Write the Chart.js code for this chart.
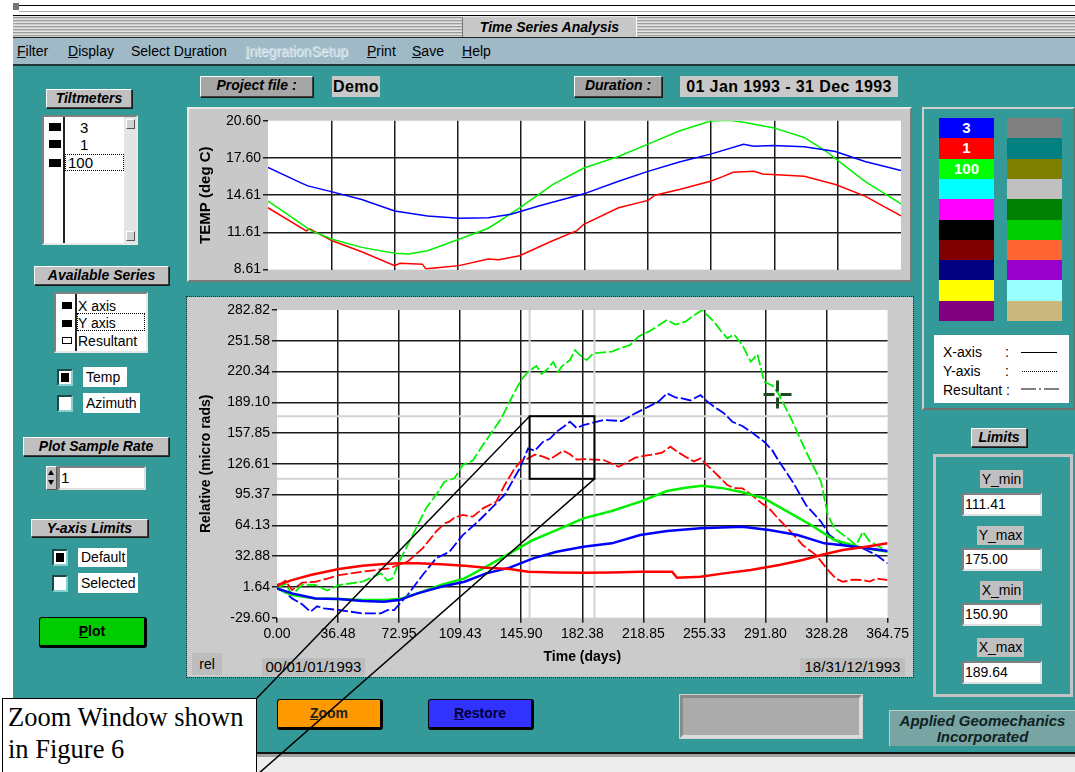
<!DOCTYPE html>
<html>
<head>
<meta charset="utf-8">
<title>Time Series Analysis</title>
<script src="https://cdn.jsdelivr.net/npm/chart.js@4.4.1/dist/chart.umd.min.js"></script>
<style>
  * { box-sizing: border-box; }
  body { margin: 0; width: 1075px; height: 772px; overflow: hidden; background: #fff;
         font-family: "Liberation Sans", Arial, sans-serif; position: relative; color: #000; }
  .a { position: absolute; }
  .tag { position: absolute; background: #c0c0c0; border: 1px solid; border-color: #fff #404040 #404040 #fff;
         box-shadow: 1px 1px 0 #1a1a1a; font: italic bold 14px "Liberation Sans", Arial, sans-serif;
         text-align: center; line-height: 17px; }
  .tag.dk { background: #a6a6a6; }
  .fld { position: absolute; background: #c8c8c8; font: bold 16px "Liberation Sans", Arial, sans-serif;
         letter-spacing: 0.4px; text-align: center; line-height: 21px; }
  .menu { position: absolute; top: 43px; font-size: 14px; line-height: 16px; }
  .list { position: absolute; background: #fff; border: 2px solid; border-color: #808080 #e8e8e8 #e8e8e8 #808080; }
  .sq { position: absolute; background: #000; }
  .item { position: absolute; font-size: 14px; line-height: 16px; }
  .chk { position: absolute; width: 16px; height: 17px; background: #fff; border: 2px solid;
         border-color: #1c4848 #86d0d0 #86d0d0 #1c4848; }
  .chk.on::after { content: ""; position: absolute; left: 2px; top: 2px; width: 8px; height: 9px; background: #000; }
  .wl { position: absolute; background: #fff; font-size: 14px; line-height: 20px; padding-left: 3px; }
  .btn { position: absolute; border: 1px solid #000; border-right-width: 3px; border-bottom-width: 3px;
         border-radius: 3px; text-align: center; font: bold 14px "Liberation Sans", Arial, sans-serif; }
  .inp { position: absolute; background: #fff; border: 2px solid; border-color: #808080 #e0e0e0 #e0e0e0 #808080;
         font-size: 14px; line-height: 19px; padding-left: 1px; }
  .glbl { position: absolute; background: #c0c0c0; font-size: 14px; text-align: center; line-height: 19px; }
  .gray { position: absolute; background: #bdbdbd; font-size: 15px; line-height: 18px; text-align: center; }
</style>
</head>
<body>

<!-- window chrome -->
<div class="a" style="left:13px;top:3px;width:6px;height:7px;background:#777"></div>
<div class="a" style="left:19px;top:5px;width:1056px;height:1px;background:#000"></div>
<div class="a" style="left:19px;top:11px;width:1056px;height:1px;background:#aaa"></div>
<div class="a" style="left:13px;top:15px;width:1062px;height:1px;background:#000"></div>
<div class="a" style="left:13px;top:16px;width:1062px;height:21px;background:repeating-linear-gradient(#e4e4e4 0 1px,#9c9c9c 1px 2px,#cacaca 2px 3px)"></div>
<div class="a" style="left:13px;top:37px;width:1062px;height:1px;background:#222"></div>
<div class="a" style="left:462px;top:17px;width:175px;height:20px;background:#c8c8c8;border-left:1px solid #777;border-right:1px solid #fff;font:italic bold 14px 'Liberation Sans',Arial,sans-serif;text-align:center;line-height:20px">Time Series Analysis</div>
<div class="a" style="left:13px;top:38px;width:1062px;height:26px;background:#9fb9c7"></div>
<div class="a" style="left:13px;top:64px;width:1062px;height:2px;background:#233636"></div>
<div class="a" style="left:13px;top:66px;width:1062px;height:686px;background:#339999"></div>
<div class="a" style="left:13px;top:752px;width:1062px;height:2px;background:#111"></div>
<div class="a" style="left:13px;top:754px;width:1062px;height:3px;background:#a0a0a0"></div>
<div class="a" style="left:13px;top:757px;width:1062px;height:15px;background:#ececec"></div>

<!-- menu -->
<div class="menu" style="left:17px"><u>F</u>ilter</div>
<div class="menu" style="left:68px"><u>D</u>isplay</div>
<div class="menu" style="left:131px">Select D<u>u</u>ration</div>
<div class="menu" style="left:245px;color:#c6d8e0;text-shadow:1px 1px 0 #e6f0f4"><u>I</u>ntegrationSetup</div>
<div class="menu" style="left:367px"><u>P</u>rint</div>
<div class="menu" style="left:412px"><u>S</u>ave</div>
<div class="menu" style="left:462px"><u>H</u>elp</div>

<!-- header fields -->
<div class="tag dk" style="left:200px;top:76px;width:113px;height:21px">Project file :</div>
<div class="fld" style="left:332px;top:76px;width:48px;height:21px">Demo</div>
<div class="tag dk" style="left:574px;top:76px;width:88px;height:21px">Duration :</div>
<div class="fld" style="left:680px;top:76px;width:218px;height:21px">01 Jan 1993 - 31 Dec 1993</div>

<!-- left panel -->
<div class="tag" style="left:46px;top:89px;width:86px;height:19px">Tiltmeters</div>
<div class="list" style="left:42px;top:115px;width:96px;height:130px"></div>
<div class="a" style="left:124px;top:117px;width:12px;height:126px;background:#e4e4e4"></div>
<div class="a" style="left:126px;top:119px;width:9px;height:10px;background:#d0d0d0;border:1px solid;border-color:#fff #555 #555 #fff"></div>
<div class="a" style="left:126px;top:231px;width:9px;height:10px;background:#d0d0d0;border:1px solid;border-color:#fff #555 #555 #fff"></div>
<div class="sq" style="left:49px;top:123px;width:12px;height:8px"></div>
<div class="sq" style="left:49px;top:140px;width:12px;height:8px"></div>
<div class="sq" style="left:49px;top:159px;width:12px;height:8px"></div>
<div class="a" style="left:63px;top:117px;width:2px;height:126px;background:#222"></div>
<div class="item" style="left:80px;top:120px;font-size:15px">3</div>
<div class="item" style="left:80px;top:137px;font-size:15px">1</div>
<div class="a" style="left:65px;top:154px;width:59px;height:17px;border:1px dotted #000"></div>
<div class="item" style="left:68px;top:155px;font-size:15px">100</div>

<div class="tag" style="left:34px;top:266px;width:135px;height:19px">Available Series</div>
<div class="list" style="left:54px;top:292px;width:94px;height:61px"></div>
<div class="sq" style="left:62px;top:302px;width:10px;height:7px"></div>
<div class="sq" style="left:62px;top:320px;width:10px;height:7px"></div>
<div class="a" style="left:62px;top:337px;width:10px;height:7px;border:1px solid #000;background:#fff"></div>
<div class="a" style="left:75px;top:294px;width:2px;height:57px;background:#222"></div>
<div class="item" style="left:78px;top:298px">X axis</div>
<div class="a" style="left:77px;top:313px;width:68px;height:18px;border:1px dotted #000"></div>
<div class="item" style="left:78px;top:315px">Y axis</div>
<div class="item" style="left:78px;top:333px">Resultant</div>

<div class="chk on" style="left:57px;top:369px"></div>
<div class="wl" style="left:83px;top:367px;width:44px;height:20px">Temp</div>
<div class="chk" style="left:57px;top:395px"></div>
<div class="wl" style="left:83px;top:393px;width:57px;height:20px">Azimuth</div>

<div class="tag" style="left:23px;top:437px;width:146px;height:19px">Plot Sample Rate</div>
<div class="a" style="left:46px;top:466px;width:11px;height:24px;background:#c0c0c0;border:1px solid;border-color:#fff #555 #555 #fff"></div>
<div class="a" style="left:48px;top:470px;width:0;height:0;border-left:3.5px solid transparent;border-right:3.5px solid transparent;border-bottom:5px solid #000"></div>
<div class="a" style="left:48px;top:480px;width:0;height:0;border-left:3.5px solid transparent;border-right:3.5px solid transparent;border-top:5px solid #000"></div>
<div class="inp" style="left:58px;top:466px;width:88px;height:24px;font-size:15px">1</div>

<div class="tag" style="left:31px;top:519px;width:117px;height:18px;line-height:16px">Y-axis Limits</div>
<div class="chk on" style="left:52px;top:549px"></div>
<div class="wl" style="left:78px;top:548px;width:49px;height:19px;line-height:19px">Default</div>
<div class="chk" style="left:52px;top:575px"></div>
<div class="wl" style="left:78px;top:573px;width:60px;height:20px">Selected</div>
<div class="btn" style="left:39px;top:617px;width:108px;height:31px;background:#00cc00;line-height:26px"><u>P</u>lot</div>

<!-- top chart -->
<div class="a" style="left:187px;top:107px;width:725px;height:175px;background:#c8c8c8;border:2px solid;border-color:#e8e8e8 #7a7a7a #7a7a7a #e8e8e8"></div>
<div class="a" style="left:189px;top:109px;width:721px;height:171px"><canvas id="tempChart"></canvas></div>

<!-- bottom chart -->
<div class="a" style="left:187px;top:297px;width:726px;height:380px;background:#cbcbcb;outline:1px dotted #2b2b2b"></div>
<div class="a" style="left:188px;top:298px;width:724px;height:378px"><canvas id="relChart"></canvas></div>
<div class="gray" style="left:192px;top:653px;width:30px;height:22px;font-size:14px;line-height:22px">rel</div>
<div class="gray" style="left:262px;top:658px;width:103px;height:18px">00/01/01/1993</div>
<div class="gray" style="left:800px;top:658px;width:105px;height:18px">18/31/12/1993</div>

<!-- right panel: colours and line styles -->
<div class="a" id="palette" style="left:922px;top:107px;width:153px;height:303px;border:2px solid;border-color:#d0d0d0 #707070 #707070 #d0d0d0"></div>
<div class="a" style="left:934px;top:335px;width:135px;height:68px;background:#fff"></div>
<div class="item" style="left:943px;top:344px">X-axis</div>
<div class="item" style="left:1005px;top:344px">:</div>
<div class="a" style="left:1021px;top:352px;width:36px;height:1px;background:#000"></div>
<div class="item" style="left:943px;top:363px">Y-axis</div>
<div class="item" style="left:1005px;top:363px">:</div>
<div class="a" style="left:1022px;top:371px;width:35px;height:0;border-top:1px dotted #000"></div>
<div class="item" style="left:943px;top:382px">Resultant :</div>
<svg class="a" style="left:1021px;top:386px" width="38" height="6"><line x1="0" y1="3" x2="38" y2="3" stroke="#000" stroke-width="1.2" stroke-dasharray="15,3,2,3"/></svg>

<div class="tag" style="left:971px;top:428px;width:56px;height:19px">Limits</div>
<div class="a" style="left:933px;top:454px;width:140px;height:243px;border:3px solid #c4c4c4"></div>
<div class="glbl" style="left:980px;top:470px;width:43px;height:18px;line-height:18px">Y_min</div>
<div class="inp" id="inYmin" style="left:962px;top:493px;width:80px;height:23px"></div>
<div class="glbl" style="left:977px;top:526px;width:47px;height:19px">Y_max</div>
<div class="inp" id="inYmax" style="left:962px;top:548px;width:80px;height:23px"></div>
<div class="glbl" style="left:980px;top:581px;width:43px;height:19px">X_min</div>
<div class="inp" id="inXmin" style="left:962px;top:603px;width:80px;height:23px"></div>
<div class="glbl" style="left:977px;top:638px;width:47px;height:19px">X_max</div>
<div class="inp" id="inXmax" style="left:962px;top:661px;width:80px;height:23px"></div>

<div class="a" style="left:889px;top:710px;width:186px;height:36px;background:#78a4a4;border-top:1px solid #b8d0d0;border-left:1px solid #b8d0d0;font:italic bold 15px 'Liberation Sans',Arial,sans-serif;color:#102222;text-align:center;line-height:16px;padding-top:2px">Applied Geomechanics<br>Incorporated</div>

<!-- bottom buttons -->
<div class="btn" style="left:277px;top:699px;width:106px;height:31px;background:#ff9900;line-height:26px;color:#222"><u>Z</u>oom</div>
<div class="btn" style="left:428px;top:699px;width:106px;height:31px;background:#3333ff;line-height:26px;color:#000033"><u>R</u>estore</div>
<div class="a" style="left:680px;top:695px;width:182px;height:43px;background:#ababab;border:3px solid;border-color:#8a8a8a #dcdcdc #dcdcdc #8a8a8a;outline:1px solid #d0d0d0"></div>

<!-- callout -->
<svg id="callout" class="a" style="left:0;top:0;z-index:10;pointer-events:none" width="1075" height="772">
  <line id="lnA" stroke="#000" stroke-width="1.5"/>
  <line id="lnB" stroke="#000" stroke-width="1.5"/>
</svg>
<div class="a" style="left:2px;top:698px;width:255px;height:80px;background:#fff;border:1px solid #000;z-index:11;font:26.5px 'Liberation Serif','Times New Roman',serif;line-height:32px;padding:2px 0 0 5px">Zoom Window shown<br>in Figure 6</div>

<script>
// ---- tick values ----
const dayTicks = [0, 36.48, 72.95, 109.43, 145.90, 182.38, 218.85, 255.33, 291.80, 328.28, 364.75];
const tempTicks = [8.61, 11.61, 14.61, 17.60, 20.60];
const relTicks = [-29.60, 1.64, 32.88, 64.13, 95.37, 126.61, 157.85, 189.10, 220.34, 251.58, 282.82];

// ---- temperature (deg C), [day, value] ----
const tempBlue = [[0,16.84],[19,15.59],[23,15.35],[37,14.87],[54,14.26],[73,13.33],[92,12.93],[110,12.74],[127,12.79],[140,13.06],[156,13.73],[182,14.71],[202,15.72],[219,16.52],[237,17.27],[255,17.91],[274,18.71],[280,18.55],[291,18.60],[309,18.50],[327,18.12],[344,17.32],[364.75,16.58]];
const tempGreen = [[0,14.13],[9,13.27],[25,11.73],[37,11.06],[54,10.40],[73,9.92],[81,9.86],[92,10.13],[110,11.06],[127,11.94],[145,13.59],[164,15.46],[182,16.79],[202,17.72],[219,18.71],[237,19.77],[255,20.57],[266,20.63],[274,20.47],[291,20.04],[309,19.25],[322,18.10],[327,17.55],[344,15.72],[364.75,13.91]];
const tempRed = [[0,13.59],[22,11.73],[24,11.90],[37,10.93],[54,10.05],[73,8.93],[76,9.12],[89,9.05],[91,8.67],[110,8.93],[127,9.46],[133,9.40],[145,9.73],[164,10.93],[178,11.75],[182,12.26],[202,13.59],[219,14.18],[223,14.60],[237,15.06],[255,15.72],[262,16.10],[268,16.45],[280,16.52],[285,16.31],[309,16.12],[327,15.46],[344,14.53],[364.75,12.93]];

// ---- relative tilt (micro rads), [day, value] ----
const relGreenX = [[0,0.2],[9,-6.6],[23,-10.0],[37,-10.7],[51,-11.7],[64,-11.7],[73,-10.7],[84,-4.9],[98,3.6],[112,10.3],[125,22.2],[139,35.7],[153,49.3],[167,59.4],[183,71.3],[200,78.7],[217,88.2],[233,99.0],[244,102.4],[254,104.4],[267,101.7],[278,97.7],[291,91.6],[305,78.1],[319,64.5],[333,49.3],[347,42.5],[364.75,37.4]];
const relBlueX = [[0,0.2],[9,-4.9],[23,-10.0],[37,-10.7],[51,-12.7],[64,-13.4],[73,-11.7],[84,-4.9],[98,1.9],[112,6.9],[125,15.4],[139,21.2],[153,30.6],[167,37.4],[183,42.5],[200,45.9],[217,54.3],[233,58.4],[253,61.1],[278,62.8],[294,59.4],[311,54.3],[327,45.9],[341,43.5],[364.75,38.1]];
const relRedX = [[0,3.6],[9,8.6],[20,13.7],[37,19.8],[51,23.2],[62,24.6],[73,25.6],[84,25.6],[98,24.6],[112,23.2],[125,21.2],[139,19.8],[150,17.1],[167,16.4],[183,16.1],[200,16.4],[217,17.1],[236,17.1],[239,11.0],[253,12.0],[267,15.4],[283,18.8],[300,23.9],[314,29.0],[325,34.0],[338,39.1],[352,42.5],[364.75,45.9]];
const relGreenY = [[0,0.2],[5,5],[9,-6.6],[15,4],[23,3.6],[30,-2],[37,3.6],[51,6.9],[62,15.4],[66,8],[69,10.3],[73,27.3],[81,54.3],[89,81.4],[95,95],[100,108.5],[106,112],[111,125.4],[117,130],[123,145.7],[128,158],[134,172.8],[142,199.9],[146,212],[150,220.2],[155,226],[158,218],[161,221.9],[165,230],[168,220],[170,225.3],[175,232],[178,242],[181,237.1],[185,232],[189,238.8],[200,240.5],[205,244],[211,247.3],[216,256],[222,260.8],[227,266],[233,272.7],[238,268],[244,271.0],[248,276],[254,282.8],[258,276],[261,271.0],[265,262],[269,254.0],[273,258],[278,247.3],[283,230.3],[287,238],[291,210.0],[296,206],[300,196.5],[308,169.4],[316,139.0],[325,108.5],[329,74.7],[333,61.1],[337,56],[341,50.9],[346,44],[350,57.7],[354,48],[358,44.2],[364.75,37.4]];
const relBlueY = [[0,0.2],[5,-4],[9,-10.0],[15,-16],[20,-23.5],[24,-18],[28,-20.1],[37,-21.8],[51,-25.2],[62,-25.2],[66,-22],[70,-21.8],[74,-14],[78,-6.6],[87,13.7],[95,30.6],[103,37.4],[111,54.3],[120,67.9],[128,81.4],[136,95.0],[145,122.0],[150,142.3],[154,140],[159,149.1],[163,152],[167,159.3],[171,164],[175,169.4],[179,163],[183,166.0],[195,171.1],[206,170.1],[214,177.9],[222,184.7],[228,190],[233,198.2],[238,194],[242,193.1],[247,191],[253,196.5],[257,190],[261,184.7],[267,178],[272,169.4],[278,165],[283,159.3],[291,149.1],[296,140],[300,128.8],[308,108.5],[316,84.8],[325,67.9],[330,54.3],[338,44.2],[344,42],[350,40.8],[358,34.0],[364.75,25.6]];
const relRedY = [[0,1.9],[5,8],[9,-1.5],[15,6],[23,6.9],[30,10],[37,13.7],[51,17.1],[67,20.5],[78,27.3],[87,40.8],[95,57.7],[100,66],[103,67.9],[106,72],[111,74.7],[117,73],[123,81.4],[131,88.2],[136,105.1],[142,122.0],[146,130],[150,132.2],[154,136],[159,133.9],[163,131],[167,135.6],[171,140],[175,136.3],[179,131],[183,131.5],[195,130.5],[200,127],[204,123.7],[209,128],[214,132.9],[220,135],[225,136.3],[230,138],[235,144.0],[240,138],[244,133.9],[249,129],[253,132.2],[257,125],[261,118.7],[265,112],[269,105.1],[273,102],[278,101.7],[282,97],[286,91.6],[290,86],[294,81.4],[300,70],[305,61.1],[310,52],[314,44.2],[322,34.0],[330,17.1],[334,10],[338,6.9],[344,9],[350,8.6],[354,7],[358,10.3],[364.75,8.6]];

// zoom window limits and cursor
const limitX = [150.90, 189.64];
const limitY = [111.41, 175.00];
const cursorPt = [299, 197];

// palette swatches
const paletteLeft = ["#0000ff", "#ff0000", "#00ff00", "#00ffff", "#ff00ff", "#000000", "#800000", "#000080", "#ffff00", "#800080"];
const paletteRight = ["#808080", "#008080", "#808000", "#c0c0c0", "#008000", "#00cc00", "#ff6633", "#9900cc", "#99ffff", "#cbb87f"];
const paletteNames = ["3", "1", "100"];

// fill the palette
paletteLeft.forEach((c, i) => {
  const top = 118 + i * 20.3;
  const l = document.createElement("div");
  l.className = "a";
  l.style.cssText = `left:939px;top:${top}px;width:55px;height:20.5px;background:${c};color:#fff;font:bold 15px 'Liberation Sans',Arial,sans-serif;text-align:center;line-height:20px`;
  l.textContent = paletteNames[i] || "";
  document.body.appendChild(l);
  const r = document.createElement("div");
  r.className = "a";
  r.style.cssText = `left:1007px;top:${top}px;width:55px;height:20.5px;background:${paletteRight[i]}`;
  document.body.appendChild(r);
});

document.getElementById("inYmin").textContent = limitY[0].toFixed(2);
document.getElementById("inYmax").textContent = limitY[1].toFixed(2);
document.getElementById("inXmin").textContent = limitX[0].toFixed(2);
document.getElementById("inXmax").textContent = limitX[1].toFixed(2);

Chart.defaults.font.family = '"Liberation Sans", Arial, sans-serif';
Chart.defaults.font.size = 14;
Chart.defaults.color = "#000";

const pts = (arr) => arr.map(([x, y]) => ({ x, y }));
const GRID = "#1c1c1c";
const edgeless = (n) => (ctx) => (ctx.index === 0 || ctx.index === n - 1) ? "rgba(0,0,0,0)" : GRID;

const plotBg = {
  id: "plotBg",
  beforeDraw(chart) {
    const { ctx, chartArea: a } = chart;
    ctx.save();
    ctx.fillStyle = "#fff";
    ctx.fillRect(a.left, a.top, a.right - a.left, a.bottom - a.top);
    ctx.restore();
  },
};

const line = (data, color, width, dash) => ({
  data: pts(data),
  borderColor: color,
  borderWidth: width,
  borderDash: dash || [],
  pointRadius: 0,
  tension: 0,
  fill: false,
});

// ---- temperature chart ----
new Chart(document.getElementById("tempChart"), {
  type: "line",
  data: {
    datasets: [
      line(tempBlue, "#0000ff", 1.5),
      line(tempGreen, "#00f000", 1.5),
      line(tempRed, "#ff0000", 1.5),
    ],
  },
  options: {
    responsive: true,
    maintainAspectRatio: false,
    devicePixelRatio: 1,
    animation: false,
    events: [],
    layout: { autoPadding: false, padding: { left: 0, right: 9, top: 11.7, bottom: 9.3 } },
    plugins: { legend: { display: false }, tooltip: { enabled: false } },
    scales: {
      x: {
        type: "linear",
        min: 0,
        max: 364.75,
        afterBuildTicks: (s) => { s.ticks = dayTicks.map((v) => ({ value: v })); },
        afterFit: (s) => { s.height = 0; },
        border: { display: false },
        grid: { color: edgeless(dayTicks.length), lineWidth: 1.5, drawTicks: false },
        ticks: { display: false },
      },
      y: {
        min: 8.61,
        max: 20.60,
        afterBuildTicks: (s) => { s.ticks = tempTicks.map((v) => ({ value: v })); },
        afterFit: (s) => { s.width = 79; },
        border: { display: false },
        grid: { color: edgeless(tempTicks.length), lineWidth: 1.5, tickLength: 5, tickColor: GRID },
        ticks: { padding: 2, callback: (v) => v.toFixed(2) },
        title: {
          display: true,
          text: "TEMP (deg C)",
          font: { size: 15, weight: "bold" },
          padding: { top: 8, bottom: 0 },
        },
      },
    },
  },
  plugins: [plotBg],
});

// ---- relative tilt chart with zoom window ----
const zoomWindow = {
  id: "zoomWindow",
  beforeDatasetsDraw(chart) {
    const { ctx, chartArea: a, scales: { x, y } } = chart;
    ctx.save();
    ctx.strokeStyle = "#d2d2d2";
    ctx.lineWidth = 2;
    ctx.beginPath();
    limitX.forEach((v) => {
      const px = x.getPixelForValue(v);
      ctx.moveTo(px, a.top);
      ctx.lineTo(px, a.bottom);
    });
    limitY.forEach((v) => {
      const py = y.getPixelForValue(v);
      ctx.moveTo(a.left, py);
      ctx.lineTo(a.right, py);
    });
    ctx.stroke();
    ctx.restore();
  },
  afterDatasetsDraw(chart) {
    const { ctx, scales: { x, y } } = chart;
    const x1 = x.getPixelForValue(limitX[0]);
    const x2 = x.getPixelForValue(limitX[1]);
    const y1 = y.getPixelForValue(limitY[1]);
    const y2 = y.getPixelForValue(limitY[0]);
    ctx.save();
    ctx.strokeStyle = "#000";
    ctx.lineWidth = 2;
    ctx.strokeRect(x1, y1, x2 - x1, y2 - y1);

    // crosshair cursor
    const cx = x.getPixelForValue(cursorPt[0]);
    const cy = y.getPixelForValue(cursorPt[1]);
    ctx.strokeStyle = "#1f4a1f";
    ctx.lineWidth = 3;
    ctx.beginPath();
    ctx.moveTo(cx - 14, cy); ctx.lineTo(cx - 3, cy);
    ctx.moveTo(cx + 3, cy); ctx.lineTo(cx + 14, cy);
    ctx.moveTo(cx, cy - 14); ctx.lineTo(cx, cy - 3);
    ctx.moveTo(cx, cy + 3); ctx.lineTo(cx, cy + 14);
    ctx.stroke();
    ctx.restore();

    // callout lines from the window corners to the caption box
    const r = chart.canvas.getBoundingClientRect();
    const a = document.getElementById("lnA");
    a.setAttribute("x1", r.left + x1); a.setAttribute("y1", r.top + y1);
    a.setAttribute("x2", 257); a.setAttribute("y2", 698);
    const b = document.getElementById("lnB");
    b.setAttribute("x1", r.left + x2); b.setAttribute("y1", r.top + y2);
    b.setAttribute("x2", 258); b.setAttribute("y2", 774);
  },
};

new Chart(document.getElementById("relChart"), {
  type: "line",
  data: {
    datasets: [
      line(relRedX, "#ff0000", 2.5),
      line(relBlueX, "#0000ff", 2.5),
      line(relGreenX, "#00f000", 2.5),
      line(relRedY, "#ff0000", 1.8, [11, 3]),
      line(relBlueY, "#0000ff", 1.8, [11, 3]),
      line(relGreenY, "#00f000", 1.8, [11, 3]),
    ],
  },
  options: {
    responsive: true,
    maintainAspectRatio: false,
    devicePixelRatio: 1,
    animation: false,
    events: [],
    layout: { autoPadding: false, padding: { left: 0, right: 22, top: 12, bottom: 0 } },
    plugins: { legend: { display: false }, tooltip: { enabled: false } },
    scales: {
      x: {
        type: "linear",
        min: 0,
        max: 364.75,
        afterBuildTicks: (s) => { s.ticks = dayTicks.map((v) => ({ value: v })); },
        afterFit: (s) => { s.height = 58.3; },
        border: { display: false },
        grid: { color: edgeless(dayTicks.length), lineWidth: 1.5, tickLength: 5, tickColor: GRID },
        ticks: { padding: 3, maxRotation: 0, autoSkip: false, callback: (v) => v.toFixed(2) },
        title: {
          display: true,
          text: "Time (days)",
          font: { size: 14, weight: "bold" },
          padding: { top: 0, bottom: 10.6 },
        },
      },
      y: {
        min: -29.60,
        max: 282.82,
        afterBuildTicks: (s) => { s.ticks = relTicks.map((v) => ({ value: v })); },
        afterFit: (s) => { s.width = 89; },
        border: { display: false },
        grid: { color: edgeless(relTicks.length), lineWidth: 1.5, tickLength: 5, tickColor: GRID },
        ticks: { padding: 2, autoSkip: false, callback: (v) => v.toFixed(2) },
        title: {
          display: true,
          text: "Relative (micro rads)",
          font: { size: 14, weight: "bold" },
          padding: { top: 9.6, bottom: 0 },
        },
      },
    },
  },
  plugins: [plotBg, zoomWindow],
});
</script>
</body>
</html>
